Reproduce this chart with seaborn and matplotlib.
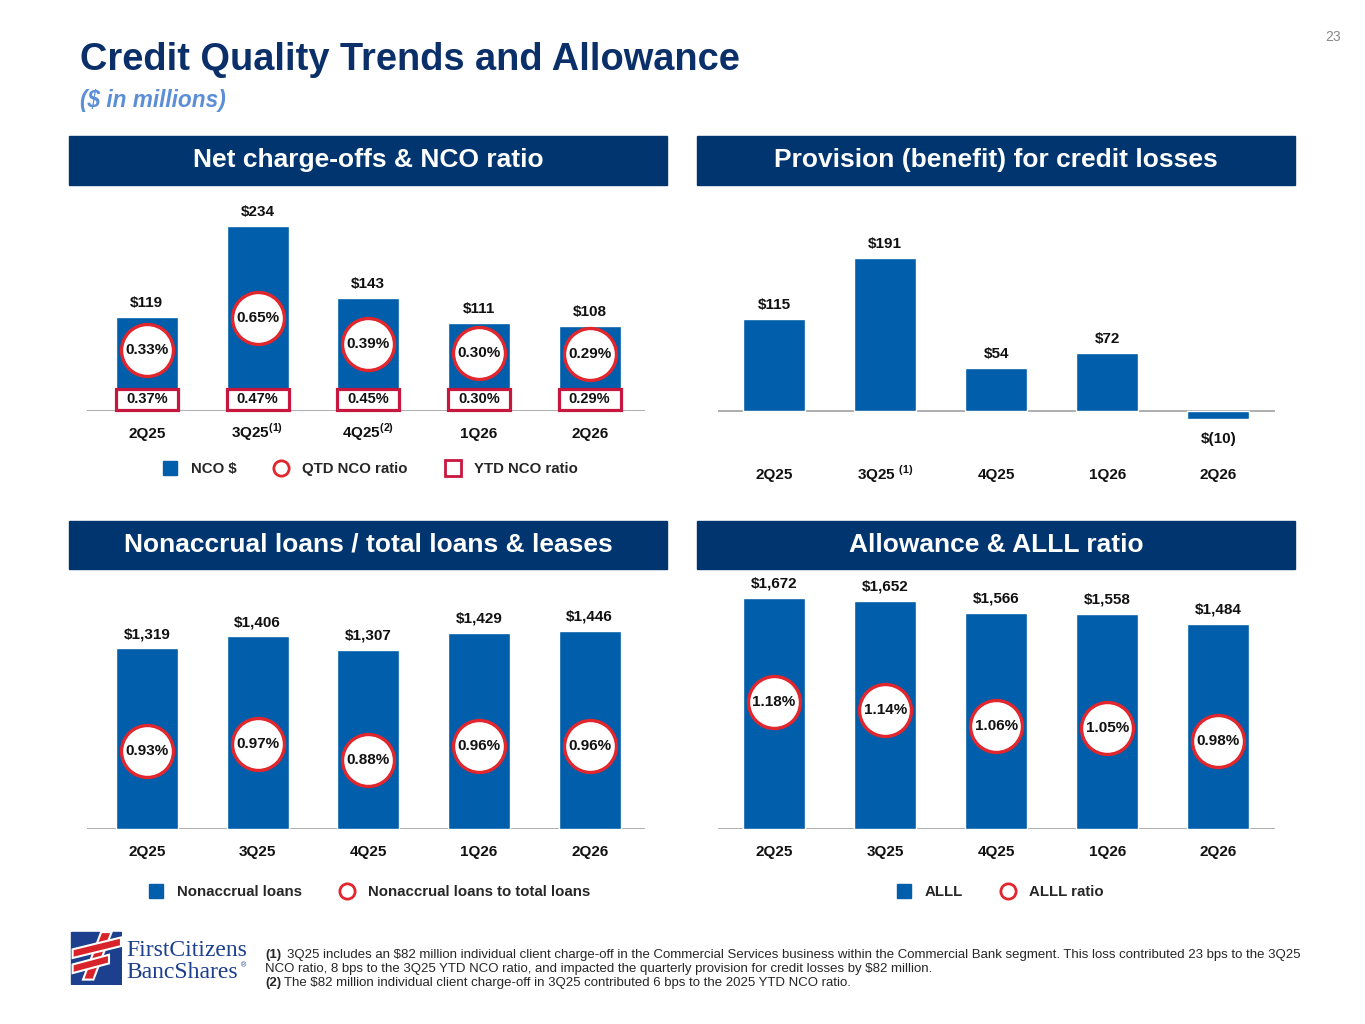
import matplotlib
matplotlib.use("Agg")
import matplotlib.pyplot as plt
from matplotlib.patches import Rectangle, Polygon
from matplotlib.lines import Line2D
import matplotlib.transforms as mtransforms
import seaborn as sns
import numpy as np

sns.set_theme(style="white")
plt.rcParams['font.family'] = ['Liberation Sans', 'DejaVu Sans']
plt.rcParams['mathtext.fontset'] = 'custom'
plt.rcParams['mathtext.rm'] = 'Liberation Sans'
plt.rcParams['mathtext.bf'] = 'Liberation Sans:bold'

# dados
quarters = ['2Q25', '3Q25', '4Q25', '1Q26', '2Q26']
nco_ticks = ['2Q25', r'3Q25$^{\mathbf{(1)}}$', r'4Q25$^{\mathbf{(2)}}$', '1Q26', '2Q26']
prov_ticks = ['2Q25', r'3Q25 $^{\mathbf{(1)}}$', '4Q25', '1Q26', '2Q26']
nco = [119, 234, 143, 111, 108]
qtd_nco_ratio = [0.33, 0.65, 0.39, 0.30, 0.29]
ytd_nco_ratio = [0.37, 0.47, 0.45, 0.30, 0.29]
provision = [115, 191, 54, 72, -10]
nonaccrual = [1319, 1406, 1307, 1429, 1446]
nonaccrual_ratio = [0.93, 0.97, 0.88, 0.96, 0.96]
alll = [1672, 1652, 1566, 1558, 1484]
alll_ratio = [1.18, 1.14, 1.06, 1.05, 0.98]

# cores
BAR = '#005EAA'
NAVY = '#00356F'
TITLE = '#0A2F69'
RED = '#E2262D'
CRIMSON = '#C8173F'
GRID = '#A0A0A0'
FS = 11

W, H = 1365, 1024
fig = plt.figure(figsize=(13.65, 10.24), dpi=100)


def px_axes(l, t, r, b):
    return fig.add_axes([l / W, 1 - b / H, (r - l) / W, (b - t) / H])


def money(v):
    if v < 0:
        return '\\$(%s)' % format(-v, ',')
    return '\\$' + format(v, ',')


def header(l, t, r, b, txt):
    fig.patches.append(Rectangle((l / W, 1 - b / H), (r - l) / W, (b - t) / H,
                                 transform=fig.transFigure, color=NAVY, zorder=0))
    fig.text((l + r) / 2 / W, 1 - (t + b) / 2 / H, txt, color='white', fontsize=19,
             fontweight='bold', ha='center', va='center')


def bars(ax, vals, ylim, xlim, ticks, pad):
    sns.barplot(x=quarters, y=vals, ax=ax, color=BAR, width=0.56, saturation=1)
    ax.set_ylim(*ylim)
    ax.set_xlim(*xlim)
    ax.axhline(0, color=GRID, lw=1.2, zorder=0)
    for s in ax.spines.values():
        s.set_visible(False)
    ax.set_yticks([])
    ax.set_xticks(range(len(quarters)))
    ax.set_xticklabels(ticks, fontsize=FS, fontweight='bold', color='#111111')
    # alinhar pela linha de base para o sobrescrito nao empurrar o texto
    for lab in ax.get_xticklabels():
        lab.set_va('baseline')
    ax.tick_params(axis='x', length=0, pad=pad)
    ax.set_xlabel('')
    ax.set_ylabel('')
    for i, v in enumerate(vals):
        if v >= 0:
            ax.annotate(money(v), (i, v), xytext=(0, 5), textcoords='offset points',
                        ha='center', va='bottom', fontsize=FS, fontweight='bold', color='#111111')
        else:
            ax.annotate(money(v), (i, v), xytext=(0, -9), textcoords='offset points',
                        ha='center', va='top', fontsize=FS, fontweight='bold', color='#111111')


def circles(ax, ratios, ylim):
    tw = ax.twinx()
    sns.scatterplot(x=np.arange(len(ratios)), y=ratios, ax=tw, s=1400, color='white',
                    edgecolor=RED, linewidth=2.4, zorder=5)
    tw.set_ylim(*ylim)
    tw.set_yticks([])
    for s in tw.spines.values():
        s.set_visible(False)
    tw.set_ylabel('')
    for i, r in enumerate(ratios):
        tw.text(i, r, '%.2f%%' % r, ha='center', va='center', fontsize=FS,
                fontweight='bold', color='#111111', zorder=6)
    return tw


# titulo
fig.text(80 / W, 1 - 60 / H, 'Credit Quality Trends and Allowance', fontsize=27.4,
         fontweight='bold', color=TITLE, va='center')
fig.text(80 / W, 1 - 100 / H, '($ in millions)', fontsize=16.3, fontweight='bold',
         fontstyle='italic', color='#5B8ED6', va='center')
fig.text(1333 / W, 1 - 37 / H, '23', fontsize=10, color='#8A8A8A', ha='center', va='center')

header(69, 136, 667, 185, 'Net charge-offs & NCO ratio')
header(697, 136, 1295, 185, 'Provision (benefit) for credit losses')
header(69, 521, 667, 569, 'Nonaccrual loans / total loans & leases')
header(697, 521, 1295, 569, 'Allowance & ALLL ratio')

# grafico 1: NCO
ax1 = px_axes(87, 200, 645, 411)
bars(ax1, nco, (0, 267), (-0.54, 4.5), nco_ticks, 19.5)
tw1 = circles(ax1, qtd_nco_ratio, (-0.28, 1.83))
trans = mtransforms.blended_transform_factory(tw1.transData, tw1.transAxes)
for i, r in enumerate(ytd_nco_ratio):
    tw1.add_patch(Rectangle((i - 0.28, 0.005), 0.56, 0.1, transform=trans, facecolor='white',
                            edgecolor=CRIMSON, lw=2.3, zorder=5, clip_on=False))
    tw1.text(i, 0.055, '%.2f%%' % r, transform=trans, ha='center', va='center',
             fontsize=10.5, fontweight='bold', color='#111111', zorder=6)

# grafico 2: provisao
ax2 = px_axes(718, 200, 1275, 430)
bars(ax2, provision, (-23.75, 263.75), (-0.505, 4.51), prov_ticks, 35.5)

# grafico 3: nonaccrual
ax3 = px_axes(87, 590, 645, 829)
bars(ax3, nonaccrual, (0, 1742), (-0.54, 4.5), quarters, 19.5)
circles(ax3, nonaccrual_ratio, (0.4925, 1.835))

# grafico 4: ALLL
ax4 = px_axes(718, 575, 1275, 829)
bars(ax4, alll, (0, 1838), (-0.505, 4.51), quarters, 19.5)
circles(ax4, alll_ratio, (0.527, 1.838))

# legendas
sq = dict(marker='s', linestyle='none', markersize=10, markerfacecolor=BAR, markeredgecolor=BAR)
ci = dict(marker='o', linestyle='none', markersize=11, markerfacecolor='white',
          markeredgecolor=RED, markeredgewidth=2)
bx = dict(marker='s', linestyle='none', markersize=11, markerfacecolor='white',
          markeredgecolor=CRIMSON, markeredgewidth=2)
legkw = dict(loc='center', frameon=False, ncol=3, handlelength=1, handletextpad=0.9,
             columnspacing=2.5, prop={'weight': 'bold', 'size': 10.8})
fig.legend([Line2D([], [], **sq), Line2D([], [], **ci), Line2D([], [], **bx)],
           ['NCO $', 'QTD NCO ratio', 'YTD NCO ratio'],
           bbox_to_anchor=(370 / W, 1 - 469 / H), **legkw)
fig.legend([Line2D([], [], **sq), Line2D([], [], **ci)],
           ['Nonaccrual loans', 'Nonaccrual loans to total loans'],
           bbox_to_anchor=(369 / W, 1 - 892 / H), **legkw)
fig.legend([Line2D([], [], **sq), Line2D([], [], **ci)],
           ['ALLL', 'ALLL ratio'],
           bbox_to_anchor=(1000 / W, 1 - 892 / H), **legkw)

# logo
lax = fig.add_axes([70 / W, 1 - 985 / H, 52 / W, 54 / H])
lax.set_xlim(0, 1)
lax.set_ylim(0, 1)
lax.axis('off')
lax.add_patch(Rectangle((0.02, 0.02), 0.96, 0.96, color='#1C3F8E'))
for poly in [[(0.25, 0.10), (0.45, 0.10), (0.80, 0.98), (0.60, 0.98)],
             [(0.05, 0.50), (0.98, 0.72), (0.98, 0.88), (0.05, 0.66)],
             [(0.05, 0.22), (0.75, 0.40), (0.75, 0.56), (0.05, 0.38)]]:
    lax.add_patch(Polygon(poly, closed=True, facecolor='#D8232A', edgecolor='white', lw=1.5))
fig.text(126 / W, 1 - 950 / H, 'FirstCitizens', fontsize=17, family='Liberation Serif',
         color='#1C3F8E', va='center')
fig.text(126 / W, 1 - 972 / H, 'BancShares', fontsize=17, family='Liberation Serif',
         color='#1C3F8E', va='center')
fig.text(241 / W, 1 - 966 / H, '®', fontsize=5, color='#1C3F8E', va='center')

# notas de rodape
fs = 9.55
fig.text(265 / W, 1 - 955 / H, '(1)', fontsize=fs, fontweight='bold', va='center')
fig.text(287 / W, 1 - 955 / H,
         '3Q25 includes an \\$82 million individual client charge-off in the Commercial Services business '
         'within the Commercial Bank segment. This loss contributed 23 bps to the 3Q25',
         fontsize=fs, va='center')
fig.text(265 / W, 1 - 969 / H,
         'NCO ratio, 8 bps to the 3Q25 YTD NCO ratio, and impacted the quarterly provision for credit '
         'losses by \\$82 million.', fontsize=fs, va='center')
fig.text(265 / W, 1 - 983 / H, '(2)', fontsize=fs, fontweight='bold', va='center')
fig.text(284 / W, 1 - 983 / H,
         'The \\$82 million individual client charge-off in 3Q25 contributed 6 bps to the 2025 YTD NCO ratio.',
         fontsize=fs, va='center')

fig.savefig('out.png', dpi=100)
